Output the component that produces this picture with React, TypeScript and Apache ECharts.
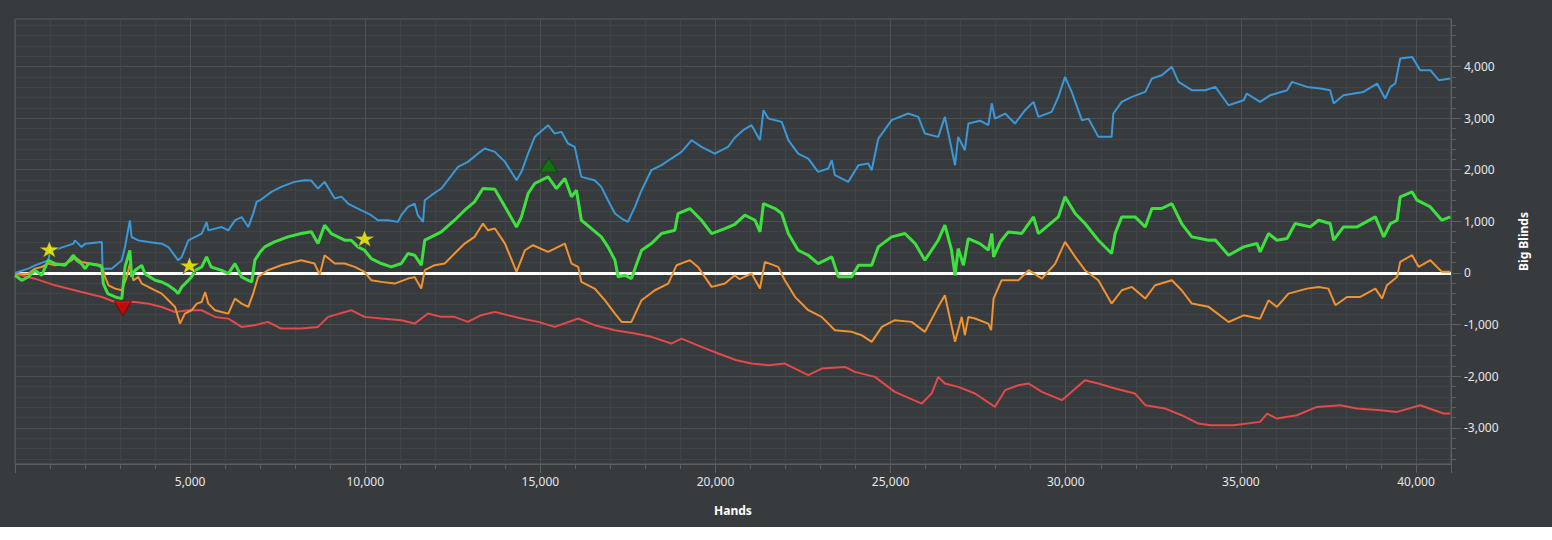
import React, { useEffect, useRef } from "react";
import * as echarts from "echarts";

// ---- axes ----
const handsMin = 0;
const handsMax = 41000;
const bbMin = -3700;
const bbMax = 4920;
const xLabelValues = [5000, 10000, 15000, 20000, 25000, 30000, 35000, 40000];
const yLabelValues = [-3000, -2000, -1000, 0, 1000, 2000, 3000, 4000];
const yMinorStep = 200;

// ---- series: [hands, big blinds] ----
const blueLine: [number, number][] = [
  [0, 0], [380, 84], [570, 148], [950, 245], [1020, 503], [1240, 471], [1670, 568], [1710, 632], [1900, 503],
  [2000, 568], [2480, 600], [2500, 84], [2760, 84], [3050, 245], [3140, 503], [3280, 1019], [3330, 697],
  [3520, 632], [3810, 600], [4190, 568], [4380, 503], [4660, 245], [4760, 310], [4950, 632], [5330, 761],
  [5470, 987], [5520, 826], [5900, 890], [6090, 826], [6280, 1019], [6470, 1084], [6660, 890], [6800, 1150],
  [6900, 1380], [7000, 1410], [7320, 1571], [7600, 1668], [7980, 1765], [8270, 1797], [8460, 1790],
  [8650, 1636], [8840, 1765], [9130, 1442], [9320, 1480], [9510, 1345], [9790, 1248], [9980, 1184],
  [10170, 1120], [10360, 1022], [10650, 1020], [10930, 990], [11030, 1120], [11220, 1281], [11410, 1345],
  [11500, 1119], [11650, 990], [11700, 1410], [11890, 1507], [12170, 1636], [12360, 1797], [12650, 2056],
  [12930, 2152], [13220, 2314], [13410, 2411], [13700, 2346], [13990, 2152], [14320, 1797], [14460, 1959],
  [14650, 2314], [14840, 2637], [15220, 2863], [15410, 2701], [15600, 2734], [15790, 2508], [15980, 2443],
  [16170, 1862], [16550, 1797], [16740, 1668], [16930, 1410], [17130, 1152], [17320, 1055], [17500, 990],
  [17700, 1281], [17890, 1604], [18170, 1991], [18460, 2088], [18740, 2217], [19030, 2346], [19320, 2572],
  [19600, 2443], [19980, 2314], [20360, 2443], [20550, 2620], [20790, 2766], [21030, 2863], [21270, 2572],
  [21370, 3153], [21510, 2992], [21890, 2927], [22080, 2572], [22360, 2314], [22650, 2217], [22930, 1959],
  [23220, 2023], [23320, 2185], [23410, 1894], [23790, 1765], [24080, 2088], [24360, 2120], [24460, 1991],
  [24650, 2604], [25030, 2960], [25500, 3089], [25790, 3024], [25980, 2701], [26360, 2637], [26550, 3024],
  [26690, 2572], [26840, 2088], [26930, 2637], [27120, 2378], [27220, 2895], [27550, 2950], [27790, 2863],
  [27890, 3283], [27980, 2992], [28270, 3089], [28550, 2895], [28840, 3153], [29080, 3315], [29220, 3024],
  [29600, 3121], [29790, 3412], [29980, 3799], [30170, 3509], [30460, 2960], [30650, 2990], [30930, 2637],
  [31310, 2637], [31360, 3089], [31600, 3315], [31890, 3412], [32270, 3509], [32460, 3767], [32740, 3831],
  [33030, 3993], [33220, 3702], [33600, 3541], [33980, 3541], [34270, 3606], [34650, 3250], [35080, 3347],
  [35170, 3476], [35550, 3314], [35840, 3444], [36320, 3540], [36460, 3702], [36890, 3605], [37270, 3573],
  [37550, 3540], [37650, 3282], [37930, 3444], [38500, 3508], [38890, 3670], [39120, 3379], [39270, 3605],
  [39410, 3670], [39550, 4154], [39890, 4186], [40120, 3928], [40410, 3928], [40650, 3734], [40980, 3766],
];

const greenLine: [number, number][] = [
  [0, -45], [190, -142], [380, -77], [570, 52], [760, -45], [950, 245], [1140, 181], [1430, 148], [1670, 342],
  [1760, 245], [1900, 181], [2000, 84], [2100, 181], [2380, 148], [2480, 116], [2520, -206], [2650, -400],
  [2860, -464], [3050, -497], [3140, 116], [3280, 439], [3330, -77], [3430, 52], [3620, 148], [3710, -13],
  [4000, -142], [4190, -174], [4380, -239], [4570, -335], [4660, -400], [4760, -271], [4950, -142], [5040, -77],
  [5140, 52], [5330, 116], [5470, 310], [5600, 116], [5900, 52], [6090, -13], [6280, 181], [6470, -77],
  [6660, -142], [6760, -174], [6850, 250], [7000, 406], [7130, 506], [7410, 603], [7790, 700], [8170, 764],
  [8460, 797], [8650, 571], [8840, 926], [9030, 764], [9220, 700], [9410, 635], [9600, 635], [9790, 506],
  [9980, 441], [10170, 280], [10460, 183], [10740, 118], [11030, 183], [11220, 377], [11410, 345], [11600, 151],
  [11700, 635], [11890, 700], [12170, 797], [12550, 1022], [12840, 1216], [13120, 1378], [13360, 1636],
  [13700, 1620], [13990, 1281], [14320, 893], [14460, 1087], [14650, 1539], [14840, 1733], [15220, 1862],
  [15460, 1636], [15700, 1830], [15890, 1475], [16030, 1604], [16170, 1022], [16460, 861], [16740, 700],
  [16930, 506], [17130, 248], [17220, -75], [17410, -43], [17600, -108], [17890, 441], [18170, 570],
  [18460, 764], [18840, 829], [18930, 1152], [19270, 1249], [19600, 1022], [19890, 764], [20270, 861],
  [20550, 940], [20840, 1120], [21130, 1022], [21270, 797], [21370, 1345], [21700, 1249], [21890, 1152],
  [22080, 764], [22360, 441], [22650, 344], [22930, 183], [23320, 312], [23510, -75], [23890, -75],
  [24080, 151], [24460, 151], [24650, 506], [25030, 700], [25410, 764], [25700, 570], [25980, 248],
  [26360, 635], [26550, 926], [26740, 441], [26840, -43], [26930, 473], [27080, 151], [27220, 667],
  [27550, 570], [27790, 442], [27890, 764], [27940, 312], [28130, 600], [28360, 796], [28740, 764],
  [29080, 1087], [29220, 764], [29510, 926], [29790, 1087], [29980, 1475], [30270, 1152], [30550, 958],
  [30930, 635], [31310, 377], [31410, 764], [31600, 1087], [31980, 1087], [32270, 893], [32460, 1249],
  [32740, 1249], [33030, 1345], [33310, 958], [33600, 700], [34080, 635], [34270, 640], [34650, 344],
  [35080, 506], [35460, 570], [35550, 409], [35790, 764], [36030, 635], [36320, 667], [36550, 958],
  [36980, 893], [37220, 1022], [37550, 958], [37650, 635], [37930, 893], [38320, 893], [38840, 1087],
  [39080, 700], [39270, 958], [39460, 1022], [39550, 1474], [39890, 1571], [40030, 1410], [40410, 1280],
  [40740, 1022], [40980, 1087],
];

const orangeLine: [number, number][] = [
  [0, -13], [380, -13], [570, 84], [760, 116], [950, 181], [1140, 148], [1430, 181], [1620, 245], [1710, 310],
  [1900, 213], [2190, 181], [2480, 148], [2570, -77], [2670, -239], [2860, -303], [3050, -335], [3190, -77],
  [3280, 181], [3380, -142], [3520, -77], [3620, -206], [3810, -271], [4000, -335], [4190, -400], [4380, -529],
  [4570, -658], [4710, -980], [4850, -787], [5040, -722], [5190, -594], [5330, -561], [5430, -368],
  [5520, -594], [5710, -722], [5900, -755], [6090, -787], [6280, -497], [6470, -594], [6660, -658],
  [6800, -400], [6940, -75], [7220, 54], [7600, 151], [8170, 248], [8550, 183], [8700, -33], [8840, 344],
  [9130, 183], [9410, 183], [9700, 118], [9980, 22], [10170, -140], [10460, -172], [10840, -205],
  [11220, -108], [11410, -80], [11600, -301], [11700, 54], [11980, 151], [12270, 183], [12550, 377],
  [12840, 570], [13120, 700], [13360, 958], [13500, 829], [13700, 861], [13990, 570], [14320, 22],
  [14560, 441], [14790, 538], [15220, 409], [15700, 570], [15890, 183], [16080, 118], [16170, -172],
  [16550, -301], [16840, -527], [17130, -786], [17320, -947], [17600, -947], [17890, -527], [18270, -334],
  [18650, -205], [18890, 151], [19270, 248], [19500, 118], [19890, -269], [20270, -205], [20550, -43],
  [20690, -120], [21030, -10], [21270, -301], [21410, 215], [21790, 118], [21980, -140], [22270, -462],
  [22650, -721], [23030, -850], [23410, -1108], [23890, -1140], [24170, -1205], [24460, -1334],
  [24750, -1044], [25120, -915], [25600, -947], [25980, -1140], [26360, -656], [26550, -430], [26840, -1334],
  [27030, -850], [27120, -1205], [27220, -850], [27410, -882], [27790, -980], [27870, -1108], [27940, -495],
  [28170, -140], [28650, -140], [28940, 54], [29320, -108], [29700, 183], [29980, 603], [30270, 312],
  [30550, 54], [30930, -140], [31310, -592], [31600, -334], [31890, -269], [32270, -495], [32550, -237],
  [33030, -140], [33310, -334], [33600, -592], [34080, -656], [34650, -949], [35080, -820], [35550, -885],
  [35790, -529], [36030, -657], [36360, -400], [36890, -303], [37220, -270], [37500, -303], [37700, -624],
  [38030, -464], [38410, -464], [38840, -303], [39030, -495], [39170, -238], [39460, -76], [39550, 215],
  [39890, 344], [40080, 118], [40410, 247], [40740, 22], [40980, 22],
];

const redLine: [number, number][] = [
  [0, -13], [570, -110], [1140, -239], [1900, -368], [2480, -464], [2860, -561], [3140, -561], [3430, -561],
  [3810, -594], [4190, -658], [4570, -755], [4950, -722], [5330, -722], [5710, -851], [6090, -884],
  [6470, -1045], [6840, -1011], [7220, -947], [7600, -1076], [8170, -1076], [8650, -1044], [8940, -850],
  [9600, -721], [9980, -850], [10460, -882], [11030, -915], [11410, -980], [11790, -786], [12170, -850],
  [12550, -850], [12930, -947], [13310, -818], [13700, -753], [14460, -882], [14940, -947], [15410, -1044],
  [16080, -882], [16550, -1011], [17130, -1108], [17700, -1173], [18170, -1237], [18740, -1367],
  [19030, -1270], [19600, -1431], [20080, -1560], [20600, -1690], [21030, -1754], [21510, -1786],
  [21980, -1754], [22650, -1980], [23030, -1851], [23700, -1819], [23980, -1915], [24550, -2012],
  [25120, -2303], [25890, -2529], [26170, -2335], [26360, -2012], [26550, -2141], [26930, -2206],
  [27410, -2335], [27980, -2593], [28270, -2270], [28650, -2173], [28940, -2141], [29320, -2303],
  [29890, -2464], [30550, -2077], [30930, -2141], [31410, -2238], [31980, -2335], [32270, -2561],
  [32840, -2626], [33310, -2755], [33790, -2916], [34130, -2949], [34790, -2949], [35550, -2884],
  [35750, -2723], [36030, -2820], [36600, -2755], [37170, -2594], [37840, -2562], [38320, -2626],
  [38980, -2658], [39460, -2691], [40120, -2562], [40790, -2723], [40980, -2723],
];

// ---- event markers ----
const starPoints: [number, number][] = [[980, 460], [4980, 150], [9980, 670]];
const downPoints: [number, number][] = [[3080, -690]];
const upPoints: [number, number][] = [[15240, 2090]];

const BG = "#383b3e";
const GRID_MINOR = "#414447";
const GRID_MAJOR = "#4e5154";
const BORDER = "#5c5f62";
const TEXT = "#e6e6e6";
const FONT = "Noto Sans";
const STAR =
  "path://M50,0 L62,35 L100,35 L69,57 L81,93 L50,71 L19,93 L31,57 L0,35 L38,35 Z";

const fmt = (v: number) => v.toLocaleString("en-US");

function buildOption(): echarts.EChartsCoreOption {
  const yMinor: number[] = [];
  for (let v = Math.ceil(bbMin / yMinorStep) * yMinorStep; v <= bbMax; v += yMinorStep) yMinor.push(v);
  const majorIdx = yMinor.findIndex((v) => v % 1000 === 0);
  const yColors = [0, 1, 2, 3, 4].map((i) => (i === majorIdx % 5 ? GRID_MAJOR : GRID_MINOR));

  return {
    animation: false,
    backgroundColor: BG,
    textStyle: { fontFamily: FONT },
    grid: {
      left: 15,
      top: 19,
      width: 1436,
      height: 445,
      show: true,
      borderColor: BORDER,
      borderWidth: 1,
      backgroundColor: "transparent",
    },
    xAxis: [
      {
        type: "value",
        position: "bottom",
        min: handsMin,
        max: handsMax,
        interval: 1000,
        name: "Hands",
        nameLocation: "middle",
        nameGap: 40,
        nameTextStyle: { color: "#ffffff", fontWeight: "bold", fontSize: 12, fontFamily: FONT },
        axisLine: { show: true, onZero: false, lineStyle: { color: BORDER, width: 1 } },
        axisTick: { show: true, length: 5, lineStyle: { color: BORDER } },
        axisLabel: {
          customValues: xLabelValues,
          formatter: (v: number) => fmt(v),
          color: TEXT,
          fontSize: 12,
          margin: 11,
          fontFamily: FONT,
        },
        splitLine: {
          show: true,
          lineStyle: { color: [GRID_MAJOR, GRID_MINOR, GRID_MINOR, GRID_MINOR, GRID_MINOR], width: 1 },
        },
      },
      {
        type: "value",
        position: "bottom",
        min: handsMin,
        max: handsMax,
        interval: 5000,
        axisLine: { show: false, onZero: false },
        axisTick: { show: true, length: 9, lineStyle: { color: BORDER } },
        axisLabel: { show: false },
        splitLine: { show: false },
      },
    ],
    yAxis: [
      {
        type: "value",
        position: "right",
        min: bbMin,
        max: bbMax,
        name: "Big Blinds",
        nameLocation: "middle",
        nameGap: 66,
        nameTextStyle: { color: "#ffffff", fontWeight: "bold", fontSize: 12, fontFamily: FONT },
        axisLine: { show: true, onZero: false, lineStyle: { color: BORDER, width: 1 } },
        axisTick: { show: true, length: 5, customValues: yMinor, lineStyle: { color: BORDER } },
        axisLabel: {
          customValues: yLabelValues,
          formatter: (v: number) => fmt(v),
          color: TEXT,
          fontSize: 12,
          margin: 13,
          fontFamily: FONT,
        },
        splitLine: { show: true, lineStyle: { color: yColors, width: 1 } },
      },
      {
        type: "value",
        position: "right",
        min: bbMin,
        max: bbMax,
        axisLine: { show: false, onZero: false },
        axisTick: { show: true, length: 10, customValues: yLabelValues, lineStyle: { color: BORDER } },
        axisLabel: { show: false },
        splitLine: { show: false },
      },
    ],
    series: [
      {
        name: "red",
        type: "line",
        data: redLine,
        symbol: "none",
        lineStyle: { color: "#e44848", width: 2 },
        z: 3,
        markLine: {
          silent: true,
          symbol: "none",
          z: 1,
          label: { show: false },
          lineStyle: { color: "#ffffff", width: 3, type: "solid" },
          data: [{ yAxis: 0 }],
        },
      },
      {
        name: "orange",
        type: "line",
        data: orangeLine,
        symbol: "none",
        lineStyle: { color: "#f0922f", width: 2 },
        z: 3,
      },
      {
        name: "blue",
        type: "line",
        data: blueLine,
        symbol: "none",
        lineStyle: { color: "#3a98d6", width: 2 },
        z: 3,
      },
      {
        name: "green",
        type: "line",
        data: greenLine,
        symbol: "none",
        lineStyle: { color: "#3ee03e", width: 3 },
        z: 4,
      },
      {
        name: "stars",
        type: "scatter",
        data: starPoints,
        symbol: STAR,
        symbolSize: [21, 17],
        itemStyle: { color: "#ffff00", borderColor: "#33335a", borderWidth: 0.8 },
        z: 6,
      },
      {
        name: "down",
        type: "scatter",
        data: downPoints,
        symbol: "triangle",
        symbolRotate: 180,
        symbolSize: [17, 14],
        itemStyle: { color: "#e00000", borderColor: "#7a0000", borderWidth: 1 },
        z: 6,
      },
      {
        name: "up",
        type: "scatter",
        data: upPoints,
        symbol: "triangle",
        symbolSize: [18, 14],
        itemStyle: { color: "#0a7d0a", borderColor: "#054a05", borderWidth: 1 },
        z: 6,
      },
    ],
  };
}

export default function App() {
  const ref = useRef<HTMLDivElement>(null);
  useEffect(() => {
    if (!ref.current) return;
    const chart = echarts.init(ref.current, undefined, { renderer: "svg" });
    chart.setOption(buildOption());
    return () => chart.dispose();
  }, []);
  return (
    <div
      ref={ref}
      style={{ position: "absolute", left: 0, top: 0, width: 1552, height: 527 }}
    />
  );
}
